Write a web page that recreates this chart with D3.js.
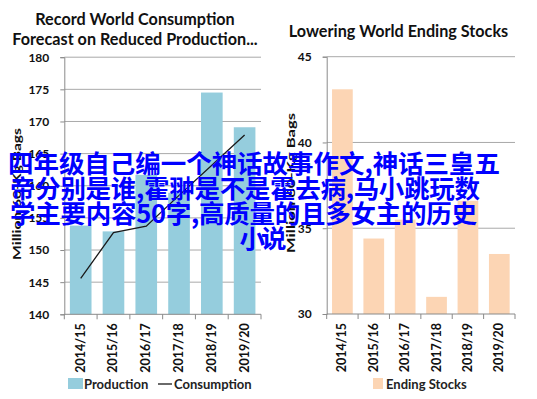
<!DOCTYPE html>
<html>
<head>
<meta charset="utf-8">
<script src="https://cdn.jsdelivr.net/npm/d3@7"></script>
<style>
  html, body { margin: 0; padding: 0; background: #fff; }
  svg { display: block; }
  text { font-family: Lato, "Open Sans", sans-serif; }
</style>
</head>
<body>
<svg id="chart" width="537" height="399"></svg>
<script>
// data
var seasons = ['2014/15', '2015/16', '2016/17', '2017/18', '2018/19', '2019/20'];
var production = [153.8, 152.9, 161.7, 158.9, 174.5, 169.1];
var consumption = [145.6, 152.7, 153.7, 158.5, 163.2, 167.9];
var endingStocks = [43.1, 34.4, 35.5, 31.0, 36.6, 33.5];
var leftTicks = [140, 145, 150, 155, 160, 165, 170, 175, 180];
var rightTicks = [30, 35, 40, 45];
var overlayLines = [
  '四年级自己编一个神话故事作文,神话三皇五',
  '帝分别是谁,霍翀是不是霍去病,马小跳玩数',
  '学主要内容50字,高质量的且多女主的历史',
  '小说'
];

var svg = d3.select('#chart');

function panel(opts) {
  var g = svg.append('g');
  var x = d3.scaleBand().domain(seasons).range(opts.xr)
      .paddingInner(0.34).paddingOuter(0.17);
  var y = d3.scaleLinear().domain(opts.dom).range(opts.yr);

  // gridlines
  g.selectAll('line.grid').data(opts.ticks.slice(1)).enter()
    .append('line')
      .attr('x1', opts.xr[0]).attr('x2', opts.xr[1])
      .attr('y1', function (d) { return y(d); })
      .attr('y2', function (d) { return y(d); })
      .attr('stroke', '#a9a9a9').attr('stroke-width', 1);

  // bars
  g.selectAll('rect.bar').data(opts.values).enter()
    .append('rect')
      .attr('x', function (d, i) { return x(seasons[i]); })
      .attr('width', x.bandwidth())
      .attr('y', function (d) { return y(d); })
      .attr('height', function (d) { return y(opts.dom[0]) - y(d); })
      .attr('fill', opts.color);

  // y axis
  var ya = g.append('g')
      .attr('transform', 'translate(' + opts.xr[0] + ',0)')
      .call(d3.axisLeft(y).tickValues(opts.ticks).tickSize(4).tickPadding(11));
  ya.select('.domain').attr('stroke', '#8a8a8a');
  ya.selectAll('.tick line').attr('stroke', '#8a8a8a');
  ya.selectAll('.tick text')
      .attr('font-family', 'Lato').attr('font-weight', 'bold')
      .attr('font-size', 12).attr('fill', '#111');

  // x axis with ticks between categories
  var base = y(opts.dom[0]);
  var bounds = d3.range(seasons.length + 1).map(function (i) {
    return opts.xr[0] + i * x.step();
  });
  g.append('line')
      .attr('x1', opts.xr[0]).attr('x2', opts.xr[1])
      .attr('y1', base).attr('y2', base)
      .attr('stroke', '#8a8a8a');
  g.selectAll('line.xt').data(bounds).enter()
    .append('line')
      .attr('x1', function (d) { return d; }).attr('x2', function (d) { return d; })
      .attr('y1', base).attr('y2', base + 5)
      .attr('stroke', '#8a8a8a');
  g.selectAll('text.xl').data(seasons).enter()
    .append('text')
      .attr('transform', function (d) {
        return 'translate(' + (x(d) + x.bandwidth() / 2 + 4) + ',' + (base + 9) + ') rotate(-90)';
      })
      .attr('text-anchor', 'end')
      .attr('font-weight', 'bold').attr('font-size', 12.5).attr('fill', '#111')
      .text(function (d) { return d; });

  // y title
  g.append('text')
      .attr('transform', 'translate(' + opts.ytx + ',' + opts.yty + ') rotate(-90)')
      .attr('text-anchor', 'middle')
      .attr('font-weight', 'bold').attr('font-size', 11).attr('fill', '#111')
      .attr('textLength', opts.ytl).attr('lengthAdjust', 'spacingAndGlyphs')
      .text('Million 60-Kg Bags');

  // title
  opts.title.forEach(function (t, i) {
    g.append('text')
        .attr('x', opts.tx).attr('y', opts.ty + i * 20)
        .attr('text-anchor', 'middle')
        .attr('font-weight', 'bold').attr('font-size', 16.2).attr('fill', '#111')
        .text(t);
  });

  return { g: g, x: x, y: y };
}

var left = panel({
  xr: [64.3, 261], yr: [314.3, 57.2], dom: [140, 180], ticks: leftTicks,
  values: production, color: '#95cddd',
  ytx: 21, yty: 194, ytl: 132,
  title: ['Record World Consumption', 'Forecast on Reduced Production...'], tx: 135, ty: 25
});

// consumption line
var line = d3.line()
    .x(function (d, i) { return left.x(seasons[i]) + left.x.bandwidth() / 2; })
    .y(function (d) { return left.y(d); });
left.g.append('path')
    .datum(consumption)
    .attr('d', line)
    .attr('fill', 'none').attr('stroke', '#1a1a1a').attr('stroke-width', 1.3);

var right = panel({
  xr: [326.7, 515], yr: [314, 56.7], dom: [30, 45], ticks: rightTicks,
  values: endingStocks, color: '#fcd5b4',
  ytx: 295, yty: 183, ytl: 140,
  title: ['Lowering World Ending Stocks'], tx: 398.5, ty: 37
});

// legends
var lg = svg.append('g').attr('font-weight', 'bold').attr('font-size', 13).attr('fill', '#222');
lg.append('rect').attr('x', 68).attr('y', 378).attr('width', 15).attr('height', 11).attr('fill', '#95cddd');
lg.append('text').attr('x', 84).attr('y', 388.5).attr('fill', '#222').text('Production');
lg.append('line').attr('x1', 158).attr('x2', 172).attr('y1', 384).attr('y2', 384)
    .attr('stroke', '#1a1a1a').attr('stroke-width', 1.3);
lg.append('text').attr('x', 174).attr('y', 388.5).attr('fill', '#222').text('Consumption');
lg.append('rect').attr('x', 373).attr('y', 378).attr('width', 10).attr('height', 11).attr('fill', '#fcd5b4');
lg.append('text').attr('x', 386).attr('y', 388.5).attr('fill', '#222').text('Ending Stocks');

// overlay text, line starts and widths as in the picture
var ovX = [8, 10, 10, 263];
var ovW = [492, 470, 467, 47];
var ov = svg.append('g')
    .attr('font-size', 25.5).attr('font-weight', 'bold').attr('fill', '#0000ff');
overlayLines.forEach(function (t, i) {
  var last = i === overlayLines.length - 1;
  ov.append('text')
      .attr('x', ovX[i])
      .attr('y', 173 + i * 25)
      .attr('text-anchor', last ? 'middle' : 'start')
      .attr('textLength', ovW[i]).attr('lengthAdjust', 'spacing')
      .style('font-family', '"Noto Sans CJK SC", sans-serif')
      .text(t);
});
</script>
</body>
</html>
